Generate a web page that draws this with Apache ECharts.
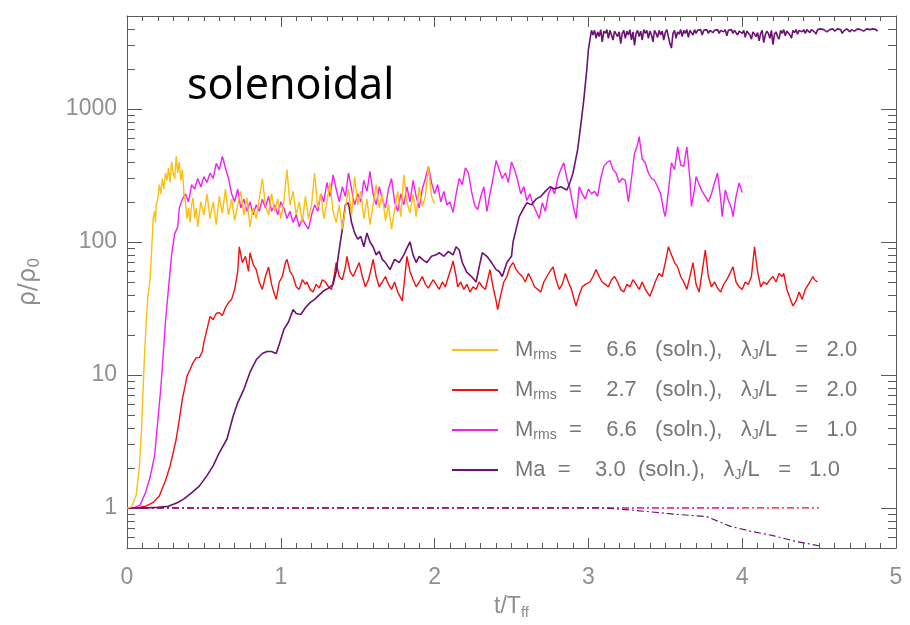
<!DOCTYPE html>
<html>
<head>
<meta charset="utf-8">
<script src="https://cdn.jsdelivr.net/npm/echarts@6/dist/echarts.min.js"></script>
<style>
  html, body { margin: 0; padding: 0; background: #fff; }
  #chart { width: 910px; height: 625px; }
</style>
</head>
<body>
<div id="chart"></div>
<script>
// tick values
var xTicks = [0, 1, 2, 3, 4, 5];
var yMajor = [1, 10, 100, 1000];
var yMinor = [0.6, 0.7, 0.8, 0.9, 2, 3, 4, 5, 6, 7, 8, 9, 20, 30, 40, 50, 60, 70, 80, 90,
    200, 300, 400, 500, 600, 700, 800, 900, 2000, 3000, 4000];

// series names (legend order)
var names = ['yellow', 'red', 'magenta', 'purple'];

// Mrms = 6.6, lambda/L = 2.0  [t/Tff, rho/rho0]
var yellowData = [[0,1],[0.03,1.02],[0.06,1.25],[0.08,2],[0.095,4],[0.105,8],[0.115,15],[0.125,25],[0.135,38],[0.15,52],
    [0.16,85],[0.17,150],[0.18,170],[0.185,140],[0.19,190],[0.2,210],[0.21,270],[0.22,230],[0.23,300],[0.24,250],
    [0.25,330],[0.26,290],[0.27,360],[0.28,280],[0.29,400],[0.30,330],[0.31,300],[0.32,440],[0.33,330],[0.34,400],
    [0.35,290],[0.36,350],[0.37,230],[0.38,200],[0.39,150],[0.40,180],[0.41,140],[0.42,190],[0.43,215],[0.44,150],
    [0.45,180],[0.46,130],[0.48,200],[0.50,160],[0.52,230],[0.54,150],[0.56,200],[0.58,135],[0.60,220],[0.62,165],
    [0.64,250],[0.66,160],[0.68,210],[0.70,145],[0.72,190],[0.74,240],[0.76,160],[0.78,215],[0.80,130],[0.82,180],
    [0.84,150],[0.86,210],[0.88,300],[0.90,190],[0.92,160],[0.94,230],[0.96,170],[0.98,210],[1.00,150],[1.02,200],
    [1.04,350],[1.06,190],[1.08,240],[1.10,160],[1.12,200],[1.14,140],[1.16,220],[1.18,150],[1.20,190],[1.22,330],
    [1.24,180],[1.26,230],[1.28,150],[1.30,200],[1.32,280],[1.34,170],[1.36,140],[1.38,190],[1.40,125],[1.42,180],
    [1.44,250],[1.46,160],[1.48,310],[1.50,190],[1.52,240],[1.54,150],[1.56,210],[1.58,135],[1.60,190],[1.62,270],
    [1.64,180],[1.66,230],[1.68,145],[1.70,190],[1.72,125],[1.74,175],[1.76,240],[1.78,155],[1.80,320],[1.82,200],
    [1.84,165],[1.86,230],[1.88,155],[1.90,260],[1.92,185],[1.94,220],[1.96,370],[1.98,220],[2.0,195]];

// Mrms = 2.7, lambda/L = 2.0
var redData = [[0,1],[0.06,1.0],[0.12,1.03],[0.17,1.1],[0.21,1.23],[0.25,1.6],[0.28,2.07],[0.30,2.6],[0.32,3.3],[0.34,4.6],
    [0.36,6.6],[0.38,8.5],[0.39,9.8],[0.41,11],[0.43,12.4],[0.45,13.5],[0.47,13.5],[0.49,15],[0.5,17.6],[0.52,22],
    [0.54,27.5],[0.56,26],[0.58,29],[0.60,29.5],[0.62,28],[0.64,32],[0.66,35],[0.68,37],[0.70,44],[0.72,60],
    [0.73,92],[0.75,70],[0.77,78],[0.79,60],[0.80,83],[0.82,68],[0.84,62],[0.86,50],[0.88,44],[0.90,55],
    [0.92,65],[0.94,48],[0.96,40],[0.97,37],[0.99,50],[1.01,55],[1.03,70],[1.04,74],[1.06,60],[1.08,55],
    [1.10,46],[1.12,44],[1.14,52],[1.16,48],[1.17,50],[1.19,44],[1.21,42],[1.23,48],[1.25,45],[1.27,52],
    [1.29,50],[1.31,46],[1.33,44],[1.35,58],[1.36,70],[1.38,55],[1.40,52],[1.42,65],[1.43,78],[1.45,60],
    [1.47,55],[1.49,62],[1.51,70],[1.53,55],[1.55,46],[1.57,52],[1.59,65],[1.60,74],[1.62,55],[1.64,46],
    [1.66,50],[1.68,55],[1.70,48],[1.72,44],[1.74,50],[1.76,42],[1.78,38],[1.79,36],[1.81,60],[1.82,78],
    [1.84,60],[1.86,52],[1.88,46],[1.90,50],[1.92,55],[1.94,48],[1.96,45],[1.99,52],[2.01,48],[2.03,44],
    [2.05,50],[2.07,46],[2.09,55],[2.11,65],[2.12,72],[2.14,55],[2.15,46],[2.17,50],[2.19,44],[2.21,48],
    [2.23,42],[2.25,46],[2.27,44],[2.29,50],[2.31,46],[2.33,44],[2.35,55],[2.36,62],[2.38,46],[2.40,36],
    [2.41,31],[2.43,40],[2.45,50],[2.47,55],[2.49,65],[2.51,70],[2.53,62],[2.55,58],[2.57,55],[2.59,50],
    [2.61,58],[2.63,52],[2.65,46],[2.67,44],[2.69,42],[2.71,50],[2.73,55],[2.75,60],[2.77,65],[2.79,52],
    [2.81,44],[2.83,48],[2.85,58],[2.87,50],[2.89,44],[2.91,36],[2.92,33],[2.94,40],[2.96,46],[2.98,48],
    [3.01,50],[3.03,55],[3.05,62],[3.07,55],[3.09,50],[3.11,48],[3.13,46],[3.15,52],[3.17,55],[3.19,50],
    [3.21,44],[3.23,42],[3.25,48],[3.27,46],[3.29,52],[3.31,48],[3.33,44],[3.35,50],[3.37,44],[3.40,39],
    [3.42,45],[3.44,52],[3.46,58],[3.48,55],[3.50,70],[3.52,92],[3.54,80],[3.56,70],[3.58,65],[3.60,55],
    [3.62,50],[3.64,44],[3.66,55],[3.68,70],[3.70,48],[3.72,42],[3.74,60],[3.76,87],[3.78,55],[3.80,46],
    [3.82,50],[3.84,45],[3.86,42],[3.88,48],[3.90,52],[3.92,58],[3.94,65],[3.96,50],[3.98,46],[4.00,44],
    [4.02,50],[4.04,48],[4.06,55],[4.08,92],[4.10,60],[4.12,46],[4.14,50],[4.16,48],[4.18,52],[4.20,55],
    [4.22,50],[4.24,58],[4.26,55],[4.27,58],[4.29,44],[4.31,38],[4.33,33],[4.35,36],[4.37,42],[4.39,37],
    [4.41,44],[4.43,48],[4.44,50],[4.46,55],[4.47,52],[4.49,50]];

// Mrms = 6.6, lambda/L = 1.0
var magentaData = [[0,1],[0.05,1.01],[0.085,1.05],[0.12,1.3],[0.15,1.7],[0.18,2.5],[0.2,4.5],[0.22,8],[0.235,14],[0.25,25],
    [0.27,45],[0.29,80],[0.31,115],[0.33,130],[0.34,180],[0.36,210],[0.38,230],[0.40,200],[0.42,270],[0.44,250],
    [0.46,300],[0.48,260],[0.50,310],[0.52,280],[0.54,330],[0.56,300],[0.58,390],[0.60,350],[0.62,440],[0.64,360],
    [0.66,300],[0.68,230],[0.70,200],[0.72,250],[0.74,180],[0.76,210],[0.78,170],[0.80,200],[0.82,160],[0.84,190],
    [0.86,170],[0.88,210],[0.90,180],[0.92,220],[0.94,170],[0.96,190],[0.98,160],[1.00,200],[1.02,180],[1.04,150],
    [1.06,170],[1.08,140],[1.10,160],[1.12,130],[1.14,150],[1.16,135],[1.18,125],[1.20,160],[1.22,190],[1.24,170],
    [1.26,230],[1.28,200],[1.30,280],[1.32,220],[1.34,320],[1.36,250],[1.38,200],[1.40,260],[1.42,220],[1.44,330],
    [1.46,250],[1.48,190],[1.50,230],[1.52,200],[1.54,290],[1.56,240],[1.58,340],[1.60,230],[1.62,190],[1.64,260],
    [1.66,210],[1.68,180],[1.70,250],[1.72,300],[1.74,200],[1.76,170],[1.78,230],[1.80,190],[1.82,260],[1.84,200],
    [1.86,290],[1.88,220],[1.90,180],[1.92,250],[1.94,300],[1.96,370],[1.98,280],[2.00,230],[2.02,270],[2.04,200],
    [2.06,240],[2.08,190],[2.10,200],[2.12,167],[2.14,230],[2.16,300],[2.18,270],[2.20,360],[2.22,330],[2.24,240],
    [2.26,190],[2.28,175],[2.30,220],[2.32,260],[2.34,170],[2.36,230],[2.38,300],[2.40,410],[2.42,350],[2.44,300],
    [2.46,330],[2.48,280],[2.50,400],[2.52,350],[2.54,290],[2.56,230],[2.58,260],[2.60,205],[2.62,230],[2.64,190],
    [2.66,170],[2.68,150],[2.70,197],[2.72,170],[2.74,230],[2.76,260],[2.78,230],[2.80,300],[2.82,350],[2.84,394],
    [2.86,300],[2.88,250],[2.90,190],[2.92,150],[2.94,260],[2.96,230],[2.98,210],[3.00,250],[3.02,230],[3.04,240],
    [3.06,220],[3.08,300],[3.10,370],[3.12,394],[3.14,410],[3.16,350],[3.18,330],[3.20,280],[3.22,300],[3.24,290],
    [3.26,200],[3.28,300],[3.30,465],[3.32,540],[3.33,620],[3.35,420],[3.37,394],[3.39,330],[3.41,300],[3.43,290],
    [3.45,260],[3.47,230],[3.49,170],[3.50,155],[3.52,240],[3.54,394],[3.56,350],[3.58,520],[3.60,380],[3.62,370],
    [3.64,520],[3.66,300],[3.67,185],[3.69,250],[3.70,310],[3.72,270],[3.74,240],[3.76,220],[3.78,200],[3.80,230],
    [3.82,280],[3.84,330],[3.86,210],[3.87,155],[3.89,246],[3.91,205],[3.93,180],[3.94,155],[3.96,220],[3.98,278],
    [4.00,235]];

// Ma = 3.0, lambda/L = 1.0 : growth phase
var purpleRise = [[0,1],[0.1,1.0],[0.2,1.01],[0.27,1.03],[0.33,1.1],[0.37,1.17],[0.42,1.3],[0.47,1.46],[0.52,1.75],[0.56,2.07],
    [0.6,2.6],[0.65,3.3],[0.69,4.9],[0.72,6.2],[0.76,7.8],[0.8,10.5],[0.84,13],[0.88,14.5],[0.91,15],[0.94,15],
    [0.97,14.5],[0.99,17],[1.02,22],[1.05,25],[1.08,31],[1.1,29],[1.13,28.5],[1.16,32],[1.19,35],[1.22,37],
    [1.25,40],[1.28,43],[1.31,45],[1.34,48],[1.36,60],[1.38,88],[1.40,125],[1.42,190],[1.44,197],[1.46,140],
    [1.48,117],[1.50,105],[1.52,110],[1.54,92],[1.56,117],[1.58,100],[1.60,92],[1.62,80],[1.64,85],[1.66,74],
    [1.68,70],[1.71,62],[1.74,74],[1.77,70],[1.80,80],[1.82,90],[1.84,100],[1.86,80],[1.88,70],[1.90,78],
    [1.92,74],[1.95,70],[1.98,78],[2.01,80],[2.03,83],[2.06,78],[2.09,85],[2.12,80],[2.14,92],[2.16,87],
    [2.18,70],[2.21,59],[2.24,55],[2.27,50],[2.29,65],[2.31,83],[2.34,78],[2.37,70],[2.40,62],[2.42,60],
    [2.44,55],[2.47,70],[2.50,78],[2.51,100],[2.53,125],[2.55,155],[2.58,180],[2.60,197],[2.63,190],[2.66,210],
    [2.69,220],[2.72,240],[2.75,260],[2.78,250],[2.82,260],[2.86,246],[2.88,280],[2.90,330],[2.93,494],[2.95,750],
    [2.97,1170],[2.99,2000],[3.00,2800],[3.02,3900]];

// Ma = 3.0 : saturated band, t = 3.03 ... 4.88 in steps of 0.01
var purpleBandStart = 3.03;
var purpleBand = [
    3600,3900,3400,3800,3500,3950,3200,3850,3700,3950,
    3400,3900,3600,3300,3850,3950,3500,3800,3100,3700,
    3900,3400,3850,3600,3950,3300,3800,3000,3700,3900,
    3500,3850,3300,3950,3700,3900,3400,3850,3600,3200,
    3900,3700,3450,3900,3600,3850,3300,3750,3950,3500,
    3100,2870,3700,3900,3400,3800,3650,3950,3500,3900,
    3700,3950,3450,3900,3800,3600,3950,3700,3900,3850,
    3950,3600,3900,3800,3950,3700,3900,3950,3750,3900,
    3850,3950,3700,3900,3950,3800,3950,3550,3900,3800,
    3950,3700,3900,4000,3600,3850,3950,3700,3900,3450,
    3850,3950,3600,3350,3800,3900,3500,3750,3250,3700,
    3900,3150,3600,3850,3700,3400,3900,3050,3650,3800,
    3500,3350,3900,3700,3950,3550,3850,3950,3600,3400,
    3900,3750,3950,3650,3900,3950,3800,3950,3700,3950,
    3900,3750,3950,4000,3800,3650,3950,3850,4000,3900,
    3950,4000,3800,3700,3950,3900,4000,3850,3950,4000,
    3900,3950,3700,3850,3950,4000,3900,3800,3950,4000,
    3850,3950,4000,3900,3950,4000,3850,3950,4000,3900,
    3950,3850,4000,3900,3950,3850];

// minimum density (dash-dot)
var yellowMin = [[0,1],[2.0,1]];
var redMin = [[0,1],[4.5,1]];
var magentaMin = [[0,1],[4.0,1]];
var purpleMin = [[0,1],[3.1,1],[3.3,0.96],[3.55,0.9],[3.77,0.86],[3.92,0.73],[4.05,0.67],[4.2,0.62],[4.35,0.56],[4.5,0.52]];

var purpleData = purpleRise.concat(purpleBand.map(function (v, i) {
    return [+(purpleBandStart + i * 0.01).toFixed(2), v];
}));

var colors = {yellow: '#fbbf0e', red: '#f01010', magenta: '#f020f0', purple: '#6c1274'};

var legendText = {
    yellow: '{p|M}{s|rms}{m|  =    6.6   (soln.),   λ}{s|J}{m|/L   =   2.0}',
    red: '{p|M}{s|rms}{m|  =    2.7   (soln.),   λ}{s|J}{m|/L   =   2.0}',
    magenta: '{p|M}{s|rms}{m|  =    6.6   (soln.),   λ}{s|J}{m|/L   =   1.0}',
    purple: '{p|Ma}{m|  =    3.0  (soln.),   λ}{s|J}{m|/L   =   1.0}'
};

var font = 'Liberation Sans';
var gray = '#8f8f8f';
var legendGray = '#777';
var boxColor = '#5a5a5a';

var myChart = echarts.init(document.getElementById('chart'));

function line(name, data, z, width) {
    return {
        name: name, type: 'line', data: data, symbol: 'none', showSymbol: false,
        xAxisIndex: 0, yAxisIndex: 0, z: z,
        lineStyle: {color: colors[name], width: width || 1.4},
        itemStyle: {color: colors[name]}
    };
}
function dashLine(key, data) {
    return {
        name: key + '-min', type: 'line', data: data, symbol: 'none', showSymbol: false,
        xAxisIndex: 0, yAxisIndex: 0, z: 1,
        lineStyle: {color: colors[key], width: 1.2, type: [7, 3, 2, 3]}
    };
}

function yAxisOf(pos, ticks, len, main) {
    return {
        type: 'log', min: 0.5, max: 5000, position: pos,
        axisLine: {show: main, lineStyle: {color: boxColor, width: 1}},
        axisTick: {show: true, inside: true, length: len, customValues: ticks,
            lineStyle: {color: boxColor, width: 1}},
        axisLabel: main && pos === 'left' ? {
            show: true, customValues: yMajor, margin: 10, fontSize: 23, color: gray, fontFamily: font,
            formatter: function (v) { return String(Math.round(v)); }
        } : {show: false},
        splitLine: {show: false},
        minorTick: {show: false},
        minorSplitLine: {show: false}
    };
}

var option = {
    backgroundColor: '#fff',
    animation: false,
    title: {
        text: 'solenoidal', left: 182, top: 60,
        textStyle: {fontSize: 43, fontWeight: 'normal', fontFamily: 'Noto Sans', color: '#000'}
    },
    grid: {left: 127, right: 14, top: 16, bottom: 77, containLabel: false},
    legend: {
        data: names, orient: 'vertical', left: 447, top: 334,
        itemWidth: 46, itemHeight: 2, itemGap: 17,
        icon: 'rect',
        formatter: function (name) { return legendText[name]; },
        textStyle: {
            rich: {
                p: {fontSize: 22, color: legendGray, fontFamily: font, padding: [0, 0, 0, 12], lineHeight: 24},
                m: {fontSize: 22, color: legendGray, fontFamily: font, lineHeight: 24},
                s: {fontSize: 14, color: legendGray, fontFamily: font, verticalAlign: 'bottom', lineHeight: 13}
            }
        }
    },
    xAxis: [{
        type: 'value', min: 0, max: 5, interval: 1, position: 'bottom',
        name: '{a|t/T}{s|ff}', nameLocation: 'middle', nameGap: 46,
        nameTextStyle: {rich: {
            a: {fontSize: 23, color: gray, fontFamily: font, lineHeight: 26},
            s: {fontSize: 15, color: gray, fontFamily: font, verticalAlign: 'bottom', lineHeight: 16}
        }},
        axisLine: {show: true, onZero: false, lineStyle: {color: boxColor, width: 1}},
        axisTick: {show: true, inside: true, length: 10, customValues: xTicks, lineStyle: {color: boxColor}},
        minorTick: {show: true, splitNumber: 10, length: 5, lineStyle: {color: boxColor}},
        axisLabel: {show: true, margin: 18, fontSize: 23, color: gray, fontFamily: font},
        splitLine: {show: false}
    }, {
        type: 'value', min: 0, max: 5, interval: 1, position: 'top',
        axisLine: {show: true, onZero: false, lineStyle: {color: boxColor, width: 1}},
        axisTick: {show: true, inside: true, length: 11, lineStyle: {color: boxColor}},
        minorTick: {show: true, splitNumber: 10, length: 5, lineStyle: {color: boxColor}},
        axisLabel: {show: false},
        splitLine: {show: false}
    }],
    yAxis: [
        Object.assign(yAxisOf('left', yMajor, 15, true), {
            name: '{a|ρ/ρ}{s|0}', nameLocation: 'middle', nameGap: 84, nameRotate: 90,
            nameTextStyle: {rich: {
                a: {fontSize: 24, color: gray, fontFamily: 'DejaVu Sans', lineHeight: 28},
                s: {fontSize: 16, color: gray, fontFamily: 'DejaVu Sans', verticalAlign: 'bottom', lineHeight: 16}
            }}
        }),
        yAxisOf('left', yMinor, 8, false),
        yAxisOf('right', yMajor, 15, true),
        yAxisOf('right', yMinor, 8, false)
    ],
    series: [
        dashLine('yellow', yellowMin),
        dashLine('red', redMin),
        dashLine('magenta', magentaMin),
        dashLine('purple', purpleMin),
        line('red', redData, 2),
        line('magenta', magentaData, 3),
        line('purple', purpleData, 4, 1.6),
        line('yellow', yellowData, 5)
    ]
};

myChart.setOption(option);
</script>
</body>
</html>
